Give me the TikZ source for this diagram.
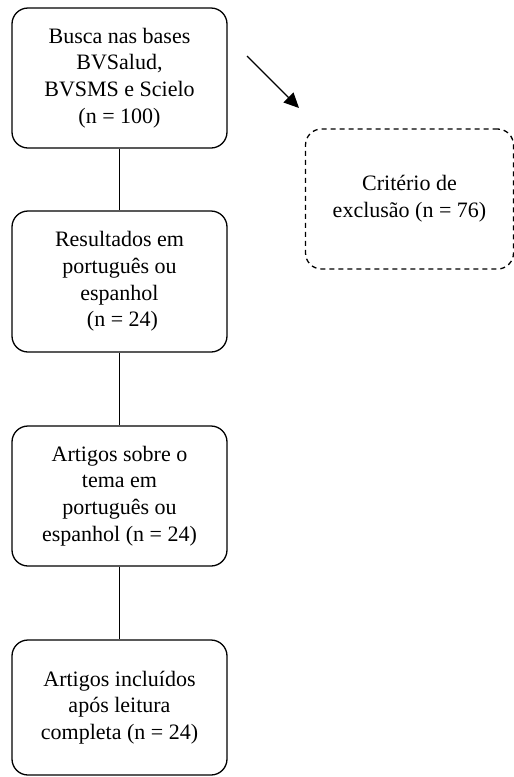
\documentclass[tikz,border=0pt]{standalone}
\usepackage{fontspec}
\setmainfont{Liberation Serif}
\usetikzlibrary{arrows.meta}
\begin{document}
\begin{tikzpicture}[x=1pt,y=-1pt,
  every node/.style={font=\fontsize{22}{26.7}\selectfont, align=center, inner sep=0pt},
  stepbox/.style={draw, line width=1.3pt, rounded corners=16pt, minimum width=215pt},
  exclbox/.style={draw, line width=1.3pt, rounded corners=16pt, dash pattern=on 5pt off 4pt, minimum width=208pt, minimum height=140pt},
  link/.style={line width=1.3pt},
  flowarrow/.style={line width=1.3pt, -{Triangle[length=15pt,width=14pt]}}]
\useasboundingbox (0,0) rectangle (514,777);
\node[stepbox, minimum height=140pt] (b1) at (119.5,78) {Busca nas bases\\BVSalud,\\BVSMS e Scielo\\(n = 100)};
\node[stepbox, minimum height=141pt] (b2) at (119.5,281.5) {Resultados em\\português ou\\espanhol\\\hspace*{6pt}(n = 24)};
\node[stepbox, minimum height=140pt] (b3) at (119.5,496) {Artigos sobre o\\tema em\\português ou\\espanhol (n = 24)};
\node[stepbox, minimum height=135pt] (b4) at (119.5,707.5) {Artigos incluídos\\após leitura\\completa (n = 24)};
\node[exclbox] (ex) at (409.5,199) {Critério de\\exclusão (n = 76)};
\draw[link] (b1) -- (b2);
\draw[link] (b2) -- (b3);
\draw[link] (b3) -- (b4);
\coordinate (as) at (247,56);
\coordinate (ae) at (299,108);
\draw[flowarrow] (as) -- (ae);
\end{tikzpicture}
\end{document}
